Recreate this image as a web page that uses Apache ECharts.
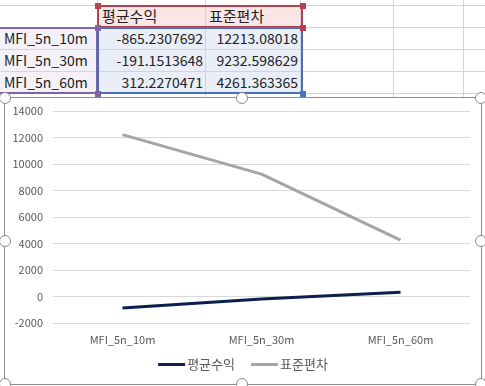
<!DOCTYPE html>
<html><head><meta charset="utf-8">
<script src="https://cdn.jsdelivr.net/npm/echarts@6/dist/echarts.min.js"></script>
<style>
html,body{margin:0;padding:0;background:#fff;width:485px;height:386px;overflow:hidden;font-family:"Noto Sans CJK KR","Noto Sans",sans-serif;}
.abs{position:absolute;box-sizing:border-box;}
.hl{position:absolute;height:1px;background:#d4d4d4;left:0;width:485px;}
.vl{position:absolute;width:1px;background:#d4d4d4;top:0;height:98px;}
.cell{position:absolute;font-size:14px;color:#222;line-height:22px;height:22px;white-space:nowrap;}
.h{width:6px;height:6px;position:absolute;}
.hd{position:absolute;width:12px;height:12px;border:1.5px solid #8a8a8a;border-radius:50%;background:#fff;box-sizing:border-box;}
</style></head>
<body>
<div id="sheet"></div>
<div class="abs" style="left:4px;top:97px;width:478px;height:288px;border:1.5px solid #8d8d8d;background:#fff;"></div>
<div id="chart" class="abs" style="left:6px;top:99px;width:474px;height:283px;"></div>
<div id="handles"></div>
<script>
const categories = ["MFI_5n_10m", "MFI_5n_30m", "MFI_5n_60m"];
const seriesNames = ["평균수익", "표준편차"];
const meanReturn = [-865.2307692, -191.1513648, 312.2270471];
const stdDev = [12213.08018, 9232.598629, 4261.363365];
const meanText = ["-865.2307692", "-191.1513648", "312.2270471"];
const stdText = ["12213.08018", "9232.598629", "4261.363365"];

const sh = document.getElementById('sheet');
let html = '';
html += '<div class="abs" style="left:97px;top:5px;width:205px;height:22px;background:#fbe6e7;"></div>';
html += '<div class="abs" style="left:0px;top:27px;width:97px;height:66px;background:#f4f1f8;"></div>';
html += '<div class="abs" style="left:97px;top:27px;width:205px;height:66px;background:#e9eef8;"></div>';
[5,27,49,71,93].forEach(y=>{html += `<div class="hl" style="top:${y}px"></div>`;});
[97,205,300,393,463].forEach(x=>{html += `<div class="vl" style="left:${x}px"></div>`;});
html += '<div class="abs" style="left:97px;top:5px;width:206px;height:23px;border:2px solid #b5404e;"></div>';
html += '<div class="abs" style="left:-2px;top:27px;width:100px;height:67px;border:2px solid #8064a2;"></div>';
html += '<div class="abs" style="left:97px;top:27px;width:206px;height:67px;border:2px solid #4a6fbf;"></div>';
[[95,3,'#b5404e'],[300,3,'#b5404e'],[95,25,'#8064a2'],[300,25,'#b5404e'],[95,91,'#8064a2'],[300,91,'#4a6fbf']].forEach(c=>{
  html += `<div class="h" style="left:${c[0]}px;top:${c[1]}px;background:${c[2]}"></div>`;
});
html += `<div class="cell" style="left:102px;top:5px;font-size:15px;">${seriesNames[0]}</div>`;
html += `<div class="cell" style="left:209px;top:5px;font-size:15px;">${seriesNames[1]}</div>`;
categories.forEach((c,i)=>{
  const y = 27 + i*22;
  html += `<div class="cell" style="left:4px;top:${y}px;">${c}</div>`;
  html += `<div class="cell" style="right:${485-203}px;top:${y}px;">${meanText[i]}</div>`;
  html += `<div class="cell" style="right:${485-298}px;top:${y}px;">${stdText[i]}</div>`;
});
sh.innerHTML = html;

let hh='';
[[5,98],[242,98],[481,98],[5,241],[481,241],[5,384],[242,384],[481,384]].forEach(p=>{
  hh += `<div class="hd" style="left:${p[0]-6}px;top:${p[1]-6}px;"></div>`;
});
document.getElementById('handles').innerHTML = hh;

const chart = echarts.init(document.getElementById('chart'));
const font = '"Noto Sans CJK KR","Noto Sans",sans-serif';
chart.setOption({
  animation:false,
  textStyle:{fontFamily:font},
  grid:{left:47,right:10,top:12,bottom:59},
  legend:{
    bottom:6, left:'center',
    itemWidth:27, itemHeight:3, itemGap:16,
    icon:'rect',
    textStyle:{color:'#595959',fontSize:13,fontFamily:font,padding:[0,0,0,-3]},
    data:seriesNames
  },
  xAxis:{
    type:'category', data:categories, boundaryGap:true,
    axisLine:{show:false}, axisTick:{show:false},
    axisLabel:{color:'#595959',fontSize:11,margin:11,fontFamily:font}
  },
  yAxis:{
    type:'value', min:-2000, max:14000, interval:2000,
    axisLine:{show:false}, axisTick:{show:false},
    axisLabel:{color:'#595959',fontSize:11,margin:10,fontFamily:font,formatter:v=>String(v)},
    splitLine:{lineStyle:{color:'#d9d9d9',width:1}}
  },
  series:[
    {name:seriesNames[0],type:'line',data:meanReturn,symbol:'none',lineStyle:{color:'#0b1f4f',width:3},itemStyle:{color:'#0b1f4f'}},
    {name:seriesNames[1],type:'line',data:stdDev,symbol:'none',lineStyle:{color:'#a5a5a5',width:3},itemStyle:{color:'#a5a5a5'}}
  ]
});
</script>
</body></html>
